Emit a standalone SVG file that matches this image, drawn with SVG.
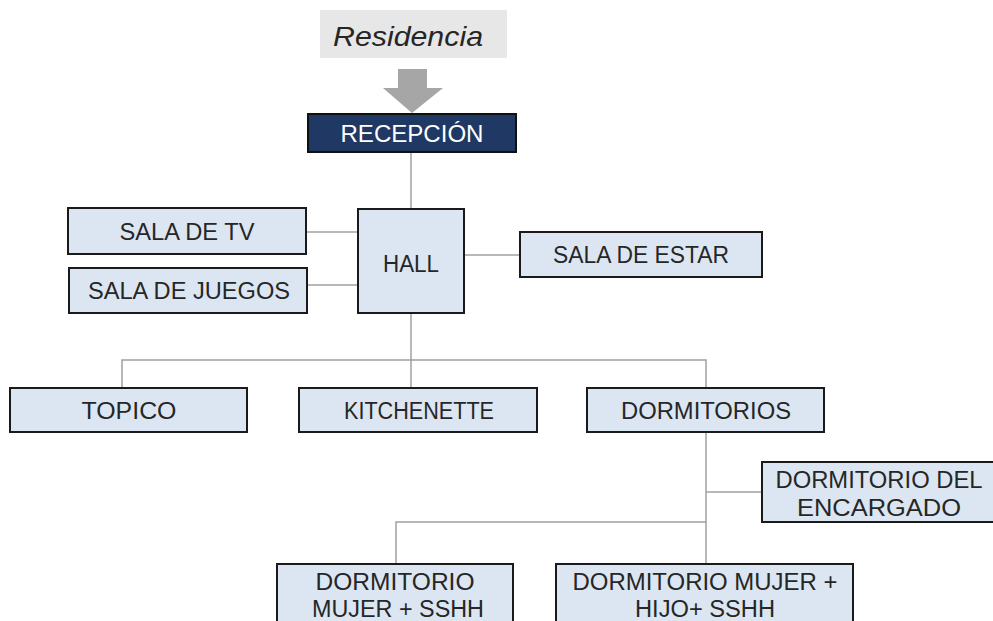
<svg xmlns="http://www.w3.org/2000/svg" width="993" height="621" viewBox="0 0 993 621">
<style>
.box{fill:#dce6f2;stroke:#1a1a1a;stroke-width:2}
.t{font-family:"Liberation Sans",Arial,sans-serif;font-size:23px;fill:#262626;text-anchor:middle}
.c{fill:none;stroke:#a0a0a0;stroke-width:1.5}
</style>
<rect width="993" height="621" fill="#ffffff"/>
<g id="residencia">
<rect x="320" y="10" width="187" height="48" fill="#e7e7e7"/>
<text x="408" y="46" font-family="Liberation Sans,Arial,sans-serif" font-style="italic" font-size="28" fill="#262626" text-anchor="middle" textLength="150" lengthAdjust="spacingAndGlyphs">Residencia</text>
</g>
<g id="arrow">
<polygon points="398,69 427,69 427,88 443,88 412,113 383,88 398,88" fill="#a6a6a6"/>
</g>
<g id="connectors">
<line class="c" x1="411" y1="152" x2="411" y2="209"/>
<line class="c" x1="306" y1="232" x2="358" y2="232"/>
<line class="c" x1="307" y1="285" x2="358" y2="285"/>
<line class="c" x1="464" y1="255" x2="520" y2="255"/>
<line class="c" x1="411" y1="313" x2="411" y2="388"/>
<polyline class="c" points="122,388 122,360 706,360 706,388"/>
<line class="c" x1="706" y1="432" x2="706" y2="564"/>
<line class="c" x1="706" y1="492" x2="762" y2="492"/>
<polyline class="c" points="396,564 396,522 706,522"/>
</g>
<g id="recepcion">
<rect x="308" y="114" width="208" height="38" fill="#1f3864" stroke="#111" stroke-width="2"/>
<text class="t" x="412" y="142" style="fill:#ffffff" textLength="143" lengthAdjust="spacingAndGlyphs">RECEPCIÓN</text>
</g>
<g id="sala-tv">
<rect class="box" x="68" y="208" width="238" height="46"/>
<text class="t" x="187" y="240" textLength="135" lengthAdjust="spacingAndGlyphs">SALA DE TV</text>
</g>
<g id="sala-juegos">
<rect class="box" x="69" y="268" width="238" height="45"/>
<text class="t" x="189" y="299" textLength="202" lengthAdjust="spacingAndGlyphs">SALA DE JUEGOS</text>
</g>
<g id="hall">
<rect class="box" x="358" y="209" width="106" height="104"/>
<text class="t" x="411" y="272" textLength="56" lengthAdjust="spacingAndGlyphs">HALL</text>
</g>
<g id="sala-estar">
<rect class="box" x="520" y="232" width="242" height="45"/>
<text class="t" x="641" y="263" textLength="176" lengthAdjust="spacingAndGlyphs">SALA DE ESTAR</text>
</g>
<g id="topico">
<rect class="box" x="10" y="388" width="237" height="44"/>
<text class="t" x="129" y="419" textLength="95" lengthAdjust="spacingAndGlyphs">TOPICO</text>
</g>
<g id="kitchenette">
<rect class="box" x="299" y="388" width="238" height="44"/>
<text class="t" x="419" y="419" textLength="150" lengthAdjust="spacingAndGlyphs">KITCHENETTE</text>
</g>
<g id="dormitorios">
<rect class="box" x="587" y="388" width="237" height="44"/>
<text class="t" x="706" y="419" textLength="170" lengthAdjust="spacingAndGlyphs">DORMITORIOS</text>
</g>
<g id="dorm-encargado">
<rect class="box" x="762" y="462" width="232" height="60"/>
<text class="t" x="879" y="488" textLength="207" lengthAdjust="spacingAndGlyphs">DORMITORIO DEL</text>
<text class="t" x="879" y="516" textLength="164" lengthAdjust="spacingAndGlyphs">ENCARGADO</text>
</g>
<g id="dorm-mujer">
<rect class="box" x="277" y="564" width="236" height="70"/>
<text class="t" x="395" y="590" textLength="159" lengthAdjust="spacingAndGlyphs">DORMITORIO</text>
<text class="t" x="398" y="617" textLength="172" lengthAdjust="spacingAndGlyphs">MUJER + SSHH</text>
</g>
<g id="dorm-mujer-hijo">
<rect class="box" x="556" y="564" width="297" height="70"/>
<text class="t" x="705" y="590" textLength="265" lengthAdjust="spacingAndGlyphs">DORMITORIO MUJER +</text>
<text class="t" x="705" y="617" textLength="140" lengthAdjust="spacingAndGlyphs">HIJO+ SSHH</text>
</g>
</svg>
